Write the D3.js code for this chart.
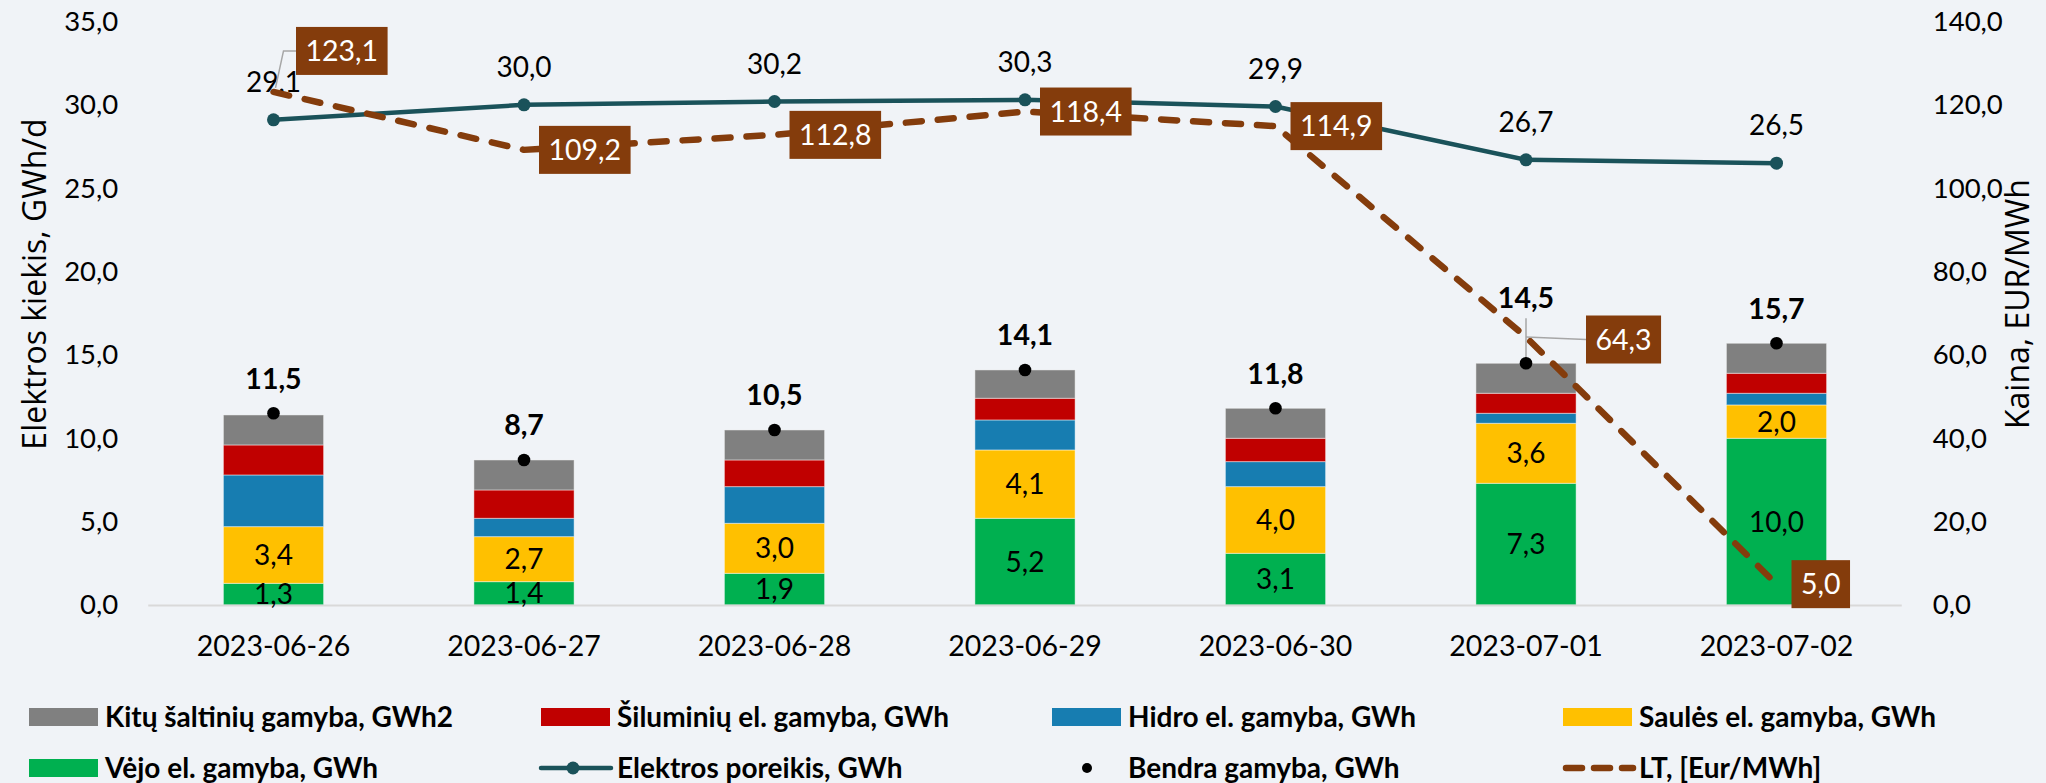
<!DOCTYPE html>
<html><head><meta charset="utf-8">
<script src="https://cdn.jsdelivr.net/npm/d3@7"></script>
<style>
html,body{margin:0;padding:0;background:#F0F3F7;}
svg{display:block;}
</style></head><body>
<svg id="chart" width="2046" height="783"></svg>
<script>
// ---------- data ----------
const dates = ["2023-06-26","2023-06-27","2023-06-28","2023-06-29","2023-06-30","2023-07-01","2023-07-02"];
const windGen    = [1.3, 1.4, 1.9, 5.2, 3.1, 7.3, 10.0];
const solarGen   = [3.4, 2.7, 3.0, 4.1, 4.0, 3.6, 2.0];
const hydroGen   = [3.1, 1.1, 2.2, 1.8, 1.5, 0.6, 0.7];
const thermalGen = [1.8, 1.7, 1.6, 1.3, 1.4, 1.2, 1.2];
const otherGen   = [1.8, 1.8, 1.8, 1.7, 1.8, 1.8, 1.8];
const totalGen   = [11.5, 8.7, 10.5, 14.1, 11.8, 14.5, 15.7];
const demand     = [29.1, 30.0, 30.2, 30.3, 29.9, 26.7, 26.5];
const priceLT    = [123.1, 109.2, 112.8, 118.4, 114.9, 64.3, 5.0];
const leftTicks  = [0, 5, 10, 15, 20, 25, 30, 35];
const rightTicks = [0, 20, 40, 60, 80, 100, 120, 140];
const seriesNames = {
  other: "Kitų šaltinių gamyba, GWh2",
  thermal: "Šiluminių el. gamyba, GWh",
  hydro: "Hidro el. gamyba, GWh",
  solar: "Saulės el. gamyba, GWh",
  wind: "Vėjo el. gamyba, GWh",
  demand: "Elektros poreikis, GWh",
  total: "Bendra gamyba, GWh",
  price: "LT, [Eur/MWh]"
};
const leftTitle = "Elektros kiekis, GWh/d";
const rightTitle = "Kaina, EUR/MWh";

// ---------- style ----------
const colors = {
  wind: "#00B050", solar: "#FFC000", hydro: "#177DB1", thermal: "#C00000", other: "#808080",
  demand: "#1A525A", price: "#843C0C", total: "#000000", axis: "#D9D9D9", leader: "#A6A6A6"
};
const FONT = "Lato, 'Open Sans', sans-serif";
const TITLE_FONT = "'Open Sans', 'Noto Sans', sans-serif";
const fmt = v => d3.format(".1f")(v).replace(".", ",");

const svg = d3.select("#chart");
const plot = {left: 148.25, right: 1901.75, top: 21.5, bottom: 605};

const x = d3.scaleBand().domain(dates).range([plot.left, plot.right]).paddingInner(0.6).paddingOuter(0.3);
const yL = d3.scaleLinear().domain([0, 35]).range([plot.bottom, plot.top]);
const yR = d3.scaleLinear().domain([0, 140]).range([plot.bottom, plot.top]);
const cx = d => x(d) + x.bandwidth() / 2;

// ---------- stacked bars ----------
const keys = ["wind", "solar", "hydro", "thermal", "other"];
const src = {wind: windGen, solar: solarGen, hydro: hydroGen, thermal: thermalGen, other: otherGen};
const rows = dates.map((d, i) => {
  const r = {date: d};
  keys.forEach(k => r[k] = src[k][i]);
  return r;
});
const stacked = d3.stack().keys(keys)(rows);

const gBars = svg.append("g");
stacked.forEach(layer => {
  gBars.selectAll(null).data(layer).enter().append("rect")
    .attr("x", d => x(d.data.date))
    .attr("width", x.bandwidth())
    .attr("y", d => yL(d[1]))
    .attr("height", d => yL(d[0]) - yL(d[1]))
    .attr("fill", colors[layer.key])
    .attr("stroke", "rgba(255,255,255,0.45)")
    .attr("stroke-width", 1);
});

// ---------- axes ----------
svg.append("line")
  .attr("x1", plot.left).attr("x2", plot.right)
  .attr("y1", plot.bottom + 0.5).attr("y2", plot.bottom + 0.5)
  .attr("stroke", colors.axis).attr("stroke-width", 2);

const axL = svg.append("g").attr("transform", `translate(${plot.left},0)`)
  .call(d3.axisLeft(yL).tickValues(leftTicks).tickSize(0).tickPadding(30).tickFormat(fmt));
const axR = svg.append("g").attr("transform", `translate(${plot.right},0)`)
  .call(d3.axisRight(yR).tickValues(rightTicks).tickSize(0).tickPadding(31).tickFormat(fmt));
const axB = svg.append("g").attr("transform", `translate(0,${plot.bottom})`)
  .call(d3.axisBottom(x).tickSize(0).tickPadding(31));
[axL, axR].forEach(a => {
  a.select(".domain").remove();
  a.selectAll("text").attr("font-family", FONT).attr("font-size", 27.5).attr("fill", "#000");
});
axB.select(".domain").remove();
axB.selectAll("text").attr("font-family", FONT).attr("font-size", 28.5).attr("fill", "#000");

// axis titles
svg.append("text")
  .attr("transform", `translate(33,${284}) rotate(-90)`)
  .attr("text-anchor", "middle").attr("dominant-baseline", "central")
  .attr("font-family", TITLE_FONT).attr("font-size", 32).attr("fill", "#000")
  .text(leftTitle);
svg.append("text")
  .attr("transform", `translate(2016,${304}) rotate(-90)`)
  .attr("text-anchor", "middle").attr("dominant-baseline", "central")
  .attr("font-family", TITLE_FONT).attr("font-size", 32).attr("fill", "#000")
  .text(rightTitle);

// ---------- segment labels (wind, solar) ----------
const gSegLab = svg.append("g");
stacked.filter(l => l.key === "wind" || l.key === "solar").forEach(layer => {
  gSegLab.selectAll(null).data(layer).enter().append("text")
    .attr("x", d => cx(d.data.date))
    .attr("y", d => (yL(d[0]) + yL(d[1])) / 2)
    .attr("dy", "0.36em")
    .attr("text-anchor", "middle")
    .attr("font-family", FONT).attr("font-size", 28).attr("fill", "#000")
    .text(d => fmt(d.data[layer.key]));
});

// ---------- total production dots + labels ----------
const totalLabelLift = [35, 35, 35, 35, 35, 66, 35];
dates.forEach((d, i) => {
  const px = cx(d), py = yL(totalGen[i]);
  if (totalLabelLift[i] > 40) {
    svg.append("line").attr("x1", px).attr("x2", px)
      .attr("y1", py - totalLabelLift[i] + 21).attr("y2", py)
      .attr("stroke", colors.leader).attr("stroke-width", 1.5);
  }
  svg.append("circle").attr("cx", px).attr("cy", py).attr("r", 6.3).attr("fill", colors.total);
  svg.append("text").attr("x", px).attr("y", py - totalLabelLift[i]).attr("dy", "0.36em")
    .attr("text-anchor", "middle").attr("font-family", FONT).attr("font-size", 28.5)
    .attr("font-weight", "bold").attr("fill", "#000").text(fmt(totalGen[i]));
});

// ---------- demand line ----------
const demandLine = d3.line().x((v, i) => cx(dates[i])).y(v => yL(v));
svg.append("path").datum(demand).attr("d", demandLine)
  .attr("fill", "none").attr("stroke", colors.demand).attr("stroke-width", 4.5)
  .attr("stroke-linejoin", "round");
svg.selectAll(null).data(demand).enter().append("circle")
  .attr("cx", (v, i) => cx(dates[i])).attr("cy", v => yL(v)).attr("r", 6.5)
  .attr("fill", colors.demand);
svg.selectAll(null).data(demand).enter().append("text")
  .attr("x", (v, i) => cx(dates[i])).attr("y", v => yL(v) - 38).attr("dy", "0.36em")
  .attr("text-anchor", "middle").attr("font-family", FONT).attr("font-size", 28)
  .attr("fill", "#000").text(v => fmt(v));

// ---------- price line ----------
const priceLine = d3.line().x((v, i) => cx(dates[i])).y(v => yR(v));
svg.append("path").datum(priceLT).attr("d", priceLine)
  .attr("fill", "none").attr("stroke", colors.price).attr("stroke-width", 6.5)
  .attr("stroke-dasharray", "16,16").attr("stroke-linecap", "round").attr("stroke-linejoin", "round");

// price labels (boxes)
const priceLabOffset = [[22.5, -41], [15, 0], [15, 0], [15, 0], [15, 0], [60, 2.5], [15, 0]];
const gPL = svg.append("g");
priceLT.forEach((v, i) => {
  const px = cx(dates[i]), py = yR(v);
  const [dx, dy] = priceLabOffset[i];
  const bx = px + dx, bcy = py + dy;
  const t = gPL.append("text").attr("font-family", FONT).attr("font-size", 28.5).attr("fill", "#fff")
    .attr("text-anchor", "middle").attr("dy", "0.36em").text(fmt(v));
  const w = t.node().getComputedTextLength() + 19;
  if (i === 0) {
    gPL.insert("path", "text").attr("d", `M${px + 2},${py - 4}L${px + 10},${bcy}L${bx},${bcy}`)
      .attr("fill", "none").attr("stroke", colors.leader).attr("stroke-width", 1.5);
  } else if (dx > 20) {
    gPL.insert("path", "text").attr("d", `M${px},${py}L${bx},${bcy}`)
      .attr("fill", "none").attr("stroke", colors.leader).attr("stroke-width", 1.5);
  }
  gPL.insert("rect", "text").attr("x", bx).attr("y", bcy - 24).attr("width", w).attr("height", 48)
    .attr("fill", colors.price);
  t.attr("x", bx + w / 2).attr("y", bcy);
});

// ---------- legend ----------
const legendItems = [
  {key: "other", type: "rect"}, {key: "thermal", type: "rect"}, {key: "hydro", type: "rect"}, {key: "solar", type: "rect"},
  {key: "wind", type: "rect"}, {key: "demand", type: "line"}, {key: "total", type: "dot"}, {key: "price", type: "dash"}
];
const legCols = [29, 541, 1052, 1563];
const legRows = [717, 768];
const gLeg = svg.append("g");
legendItems.forEach((it, i) => {
  const lx = legCols[i % 4], ly = legRows[Math.floor(i / 4)];
  const g = gLeg.append("g");
  if (it.type === "rect") {
    g.append("rect").attr("x", lx).attr("y", ly - 9).attr("width", 69).attr("height", 18).attr("fill", colors[it.key]);
  } else if (it.type === "line") {
    g.append("line").attr("x1", lx).attr("x2", lx + 70).attr("y1", ly).attr("y2", ly)
      .attr("stroke", colors.demand).attr("stroke-width", 4.5).attr("stroke-linecap", "round");
    g.append("circle").attr("cx", lx + 32).attr("cy", ly).attr("r", 6.5).attr("fill", colors.demand);
  } else if (it.type === "dot") {
    g.append("circle").attr("cx", lx + 35).attr("cy", ly).attr("r", 5).attr("fill", colors.total);
  } else {
    g.append("line").attr("x1", lx + 3).attr("x2", lx + 70).attr("y1", ly).attr("y2", ly)
      .attr("stroke", colors.price).attr("stroke-width", 6.5).attr("stroke-dasharray", "16,12")
      .attr("stroke-linecap", "round");
  }
  g.append("text").attr("x", lx + 76).attr("y", ly).attr("dy", "0.36em")
    .attr("font-family", FONT).attr("font-size", 28).attr("font-weight", "bold").attr("fill", "#000")
    .text(seriesNames[it.key]);
});
</script>
</body></html>
